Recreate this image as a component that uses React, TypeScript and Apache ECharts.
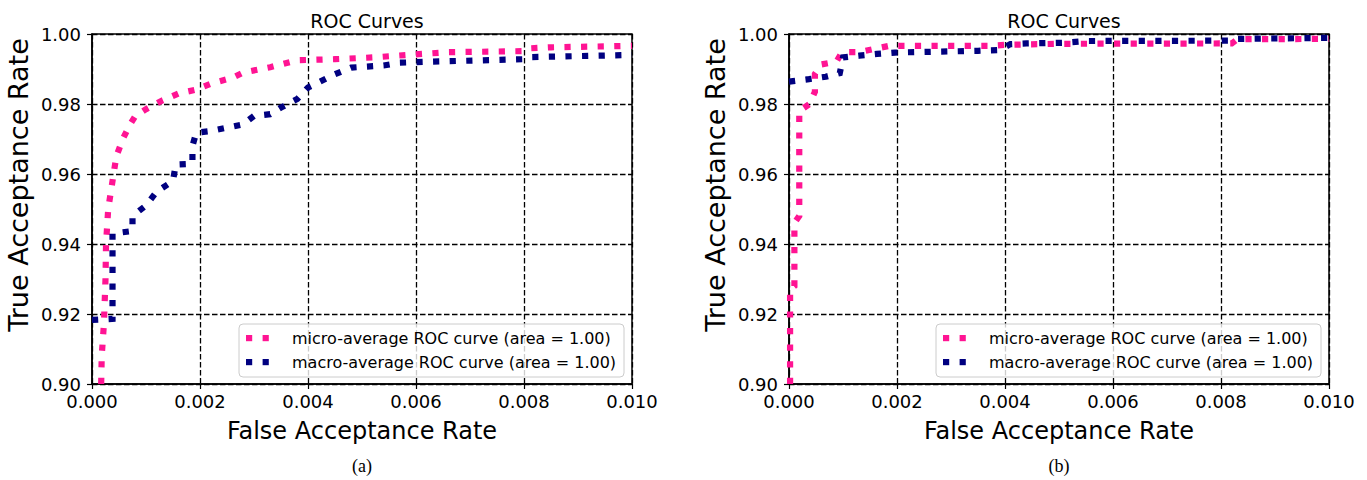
import React, { useEffect, useRef } from "react";
import * as echarts from "echarts";

const FONT = "DejaVu Sans";
const PINK = "#FF1493";
const NAVY = "#000080";

const xTickLabels = ["0.000", "0.002", "0.004", "0.006", "0.008", "0.010"];
const yTickLabels = ["0.90", "0.92", "0.94", "0.96", "0.98", "1.00"];
const chartTitles = ["ROC Curves", "ROC Curves"];
const captions = ["(a)", "(b)"];
const seriesNames = [
  "micro-average ROC curve (area = 1.00)",
  "macro-average ROC curve (area = 1.00)",
];

// (a) micro-average
const microA: [number, number][] = [
  [0.00017, 0.9], [0.00018, 0.908], [0.00022, 0.917], [0.00025, 0.93], [0.00026, 0.94],
  [0.0003, 0.95], [0.00038, 0.958], [0.00045, 0.965], [0.00057, 0.97], [0.0007, 0.974],
  [0.0008, 0.9765], [0.001, 0.9785], [0.0013, 0.981], [0.0016, 0.983], [0.0019, 0.984],
  [0.0022, 0.9858], [0.0026, 0.9875], [0.0028, 0.989], [0.0033, 0.9905], [0.0038, 0.9925],
  [0.0045, 0.9928], [0.0052, 0.9933], [0.006, 0.9942], [0.0066, 0.9948], [0.008, 0.9951],
  [0.0081, 0.9959], [0.0085, 0.9962], [0.01, 0.9966],
];
// (a) macro-average
const macroA: [number, number][] = [
  [0, 0.9183], [0.00038, 0.9186], [0.00038, 0.943], [0.00075, 0.9437], [0.00075, 0.948],
  [0.001, 0.951], [0.0012, 0.955], [0.0015, 0.958], [0.00155, 0.9627], [0.00186, 0.9629],
  [0.00186, 0.968], [0.00193, 0.9718], [0.0022, 0.9723], [0.0028, 0.9742], [0.003, 0.9766],
  [0.0033, 0.9771], [0.0035, 0.979], [0.0038, 0.9814], [0.004, 0.9847], [0.0045, 0.9885],
  [0.0048, 0.9904], [0.0054, 0.991], [0.0057, 0.9918], [0.0063, 0.9921], [0.008, 0.9928],
  [0.0081, 0.9934], [0.01, 0.994],
];
// (b) micro-average
const microB: [number, number][] = [
  [0.00002, 0.9], [0.00002, 0.927], [0.0001, 0.928], [0.0001, 0.946], [0.00019, 0.948],
  [0.00019, 0.978], [0.00038, 0.98], [0.00048, 0.9835], [0.00048, 0.9886], [0.0006, 0.9913],
  [0.00088, 0.9921], [0.00098, 0.9948], [0.0013, 0.9948], [0.00157, 0.9957], [0.00185, 0.9966],
  [0.0037, 0.9966], [0.004, 0.9969], [0.005, 0.9972], [0.0082, 0.9973], [0.0083, 0.9985],
  [0.01, 0.9986],
];
// (b) macro-average
const macroB: [number, number][] = [
  [0, 0.9864], [0.00037, 0.9871], [0.00068, 0.9878], [0.00094, 0.9888], [0.001, 0.9933],
  [0.0013, 0.9938], [0.00163, 0.9943], [0.00196, 0.9947], [0.0035, 0.9952], [0.0039, 0.9954],
  [0.0041, 0.9971], [0.0044, 0.9973], [0.0051, 0.9975], [0.0055, 0.998], [0.0082, 0.9981],
  [0.0083, 0.9986], [0.01, 0.9989],
];

const panels = [
  { left: 92, micro: microA, macro: macroA },
  { left: 789, micro: microB, macro: macroB },
];

export default function App() {
  const ref = useRef<HTMLDivElement>(null);
  useEffect(() => {
    if (!ref.current) return;
    const chart = echarts.init(ref.current, undefined, { renderer: "svg" });
    const W = 540, H = 350, TOP = 34;

    const grids = panels.map((p) => ({
      left: p.left, top: TOP, width: W, height: H,
      show: true, borderColor: "#000", borderWidth: 1.5, backgroundColor: "transparent",
    }));

    const xAxes = panels.map((_, i) => ({
      type: "value", gridIndex: i, min: 0, max: 0.01, interval: 0.002,
      axisLine: { show: true, lineStyle: { color: "#000", width: 1.5 } },
      axisTick: { show: true, length: 5, inside: false, lineStyle: { color: "#000", width: 1.2 } },
      axisLabel: {
        fontSize: 18, color: "#000", fontFamily: FONT, margin: 8,
        formatter: (v: number) => xTickLabels[Math.round(v / 0.002)] ?? "",
      },
      splitLine: { show: true, lineStyle: { color: "#000", type: [5.5, 2.5], width: 1.3 } },
      name: "False Acceptance Rate", nameLocation: "middle", nameGap: 35,
      nameTextStyle: { fontSize: 24, color: "#000", fontFamily: FONT },
    }));

    const yAxes = panels.map((_, i) => ({
      type: "value", gridIndex: i, min: 0.9, max: 1.0, interval: 0.02,
      axisLine: { show: true, lineStyle: { color: "#000", width: 1.5 } },
      axisTick: { show: true, length: 5, inside: false, lineStyle: { color: "#000", width: 1.2 } },
      axisLabel: {
        fontSize: 18, color: "#000", fontFamily: FONT, margin: 11,
        formatter: (v: number) => yTickLabels[Math.round((v - 0.9) / 0.02)] ?? "",
      },
      splitLine: { show: true, lineStyle: { color: "#000", type: [5.5, 2.5], width: 1.3 } },
    }));

    const lineStyle = (color: string) => ({
      color, width: 6.2, type: [6.2, 10.4], cap: "butt", join: "miter",
    });

    const series: any[] = [];
    panels.forEach((p, i) => {
      series.push({
        type: "line", name: seriesNames[0], xAxisIndex: i, yAxisIndex: i, data: p.micro,
        symbol: "none", showSymbol: false, clip: true, lineStyle: lineStyle(PINK), z: 3,
      });
      series.push({
        type: "line", name: seriesNames[1], xAxisIndex: i, yAxisIndex: i, data: p.macro,
        symbol: "none", showSymbol: false, clip: true, lineStyle: lineStyle(NAVY), z: 4,
      });
    });

    const titles = panels.map((p, i) => ({
      text: chartTitles[i], left: p.left + W / 2, top: 6, textAlign: "center",
      textStyle: { fontSize: 19, fontWeight: "normal", color: "#000", fontFamily: FONT },
    }));

    const graphic: any[] = [];
    panels.forEach((p, i) => {
      const bx = p.left + W - 393;
      const by = 324;
      graphic.push({
        type: "rect", z: 100,
        shape: { x: bx, y: by, width: 385, height: 53, r: 4 },
        style: { fill: "rgba(255,255,255,0.8)", stroke: "#cccccc", lineWidth: 1 },
      });
      [PINK, NAVY].forEach((c, k) => {
        const cy = by + 14 + k * 24;
        graphic.push({ type: "rect", z: 101, shape: { x: bx + 7, y: cy - 3, width: 6.2, height: 6.2 }, style: { fill: c } });
        graphic.push({ type: "rect", z: 101, shape: { x: bx + 23.6, y: cy - 3, width: 6.2, height: 6.2 }, style: { fill: c } });
        graphic.push({
          type: "text", z: 101, x: bx + 53, y: cy,
          style: { text: seriesNames[k], fontSize: 16, fontFamily: FONT, fill: "#000", align: "left", verticalAlign: "middle" },
        });
      });
      graphic.push({
        type: "text", z: 101, x: p.left - 74, y: 185, rotation: Math.PI / 2,
        style: { text: "True Acceptance Rate", fontSize: 27, fontFamily: FONT, fill: "#000", align: "center", verticalAlign: "middle" },
      });
      graphic.push({
        type: "text", z: 101, x: p.left + W / 2, y: 466,
        style: { text: captions[i], fontSize: 18, fontFamily: "Liberation Serif", fill: "#000", align: "center", verticalAlign: "middle" },
      });
    });

    chart.setOption({
      animation: false,
      backgroundColor: "#fff",
      title: titles,
      grid: grids,
      xAxis: xAxes,
      yAxis: yAxes,
      series,
      graphic,
    });
    return () => chart.dispose();
  }, []);
  return <div ref={ref} style={{ position: "absolute", left: 0, top: 0, width: 1367, height: 480 }} />;
}
